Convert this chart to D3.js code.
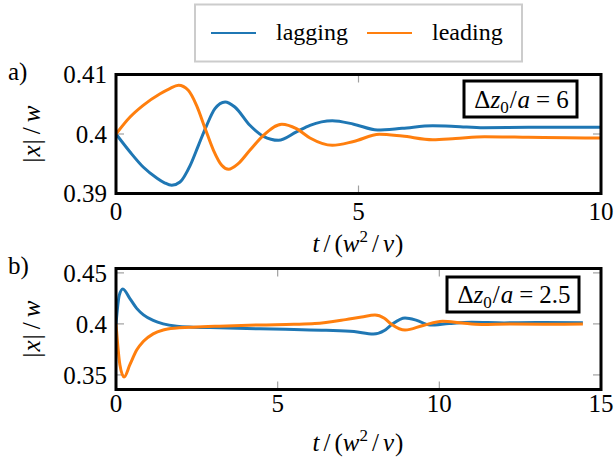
<!DOCTYPE html>
<html><head><meta charset="utf-8">
<script src="https://cdn.jsdelivr.net/npm/d3@7"></script>
<style>
body{margin:0;background:#fff;}
</style></head>
<body>
<svg id="c" width="615" height="462"></svg>
<script>
// ---- data ----
const seriesNames = ["lagging", "leading"];
const seriesColors = ["#1f77b4", "#ff7f0e"];

// panel a (Δz0/a = 6)
const aLagT = [0,0.29,0.56,0.84,1.0,1.15,1.32,1.53,1.70,1.87,2.04,2.25,2.45,2.76,3.04,3.35,3.72,4.0,4.46,4.9,5.39,5.9,6.53,7.0,7.58,8.5,9.3,10];
const aLagV = [0.4,0.39697,0.39445,0.39261,0.3918,0.39138,0.39193,0.39474,0.3981,0.40146,0.40425,0.40538,0.40454,0.40146,0.39961,0.39894,0.40034,0.40146,0.40223,0.40165,0.40067,0.40095,0.40139,0.40128,0.40105,0.40112,0.40113,0.40112];
const aLeadT = [0,0.29,0.56,0.91,1.1,1.29,1.49,1.66,1.84,2.01,2.18,2.32,2.52,2.76,3.04,3.42,3.72,4.0,4.46,4.9,5.43,5.9,6.53,7.0,7.6,8.5,9.3,10];
const aLeadV = [0.4,0.40286,0.40482,0.40677,0.4076,0.40818,0.40734,0.40482,0.40089,0.39726,0.39474,0.39407,0.39501,0.39726,0.39978,0.40163,0.40089,0.39933,0.3981,0.39875,0.39995,0.39965,0.39904,0.39925,0.39955,0.39945,0.39935,0.39933];

// panel b (Δz0/a = 2.5)
const bLagT = [0,0.1,0.21,0.43,0.64,0.85,1.15,1.46,1.88,2.39,3.2,4.45,5.5,6.5,7.36,7.96,8.3,8.53,8.94,9.3,9.71,10.3,11.0,12.0,13.0,14.44];
const bLagV = [0.4,0.428,0.4343,0.4248,0.4152,0.4089,0.4034,0.4,0.3977,0.3968,0.3962,0.3952,0.3945,0.3937,0.3925,0.39,0.3935,0.3994,0.4058,0.4035,0.3988,0.4003,0.4015,0.401,0.4013,0.4012];
const bLeadT = [0,0.12,0.25,0.43,0.64,0.85,1.15,1.46,1.88,2.39,3.2,4.45,5.5,6.15,7.1,7.6,8.01,8.3,8.53,8.94,9.5,10.1,10.7,11.3,12.2,13.2,14.44];
const bLeadV = [0.4,0.36,0.3479,0.36,0.3743,0.3829,0.3902,0.394,0.3959,0.3968,0.3978,0.399,0.3996,0.4003,0.4042,0.4068,0.4087,0.4055,0.3994,0.3939,0.3985,0.4026,0.4008,0.3994,0.3998,0.3997,0.3998];

const aXTicks = [0,5,10], aYTicks = [0.39,0.4,0.41];
const bXTicks = [0,5,10,15], bYTicks = [0.35,0.4,0.45];
const aLabel = "a)", bLabel = "b)";
const aNote = "6", bNote = "2.5";

// ---- drawing ----
const svg = d3.select("#c");
const FS = 25;     // tick labels, panel labels
const FL = 24;     // legend
const FT = 25;     // axis titles, notes
const FF = "'Liberation Serif'";

function txt(sel){ return sel.append("text").style("font-family", FF); }
function zip(T, V){ return T.map((t,i)=>[t, V[i]]); }

function panel(cfg){
  const x = d3.scaleLinear().domain(cfg.xDomain).range([116, 601]);
  const y = d3.scaleLinear().domain(cfg.yDomain).range([cfg.bottom, cfg.top]);
  const g = svg.append("g");
  const clipId = "clip" + cfg.id;
  svg.append("clipPath").attr("id", clipId).append("rect")
    .attr("x", 116).attr("y", cfg.top).attr("width", 485).attr("height", cfg.bottom - cfg.top);

  const tg = g.append("g").attr("stroke", "#a0a0a0").attr("stroke-width", 1.2);
  cfg.xTicks.forEach(v => {
    tg.append("line").attr("x1", x(v)).attr("x2", x(v)).attr("y1", cfg.top).attr("y2", cfg.top + 8);
    tg.append("line").attr("x1", x(v)).attr("x2", x(v)).attr("y1", cfg.bottom).attr("y2", cfg.bottom - 8);
  });
  cfg.yTicks.forEach(v => {
    tg.append("line").attr("x1", 116).attr("x2", 124).attr("y1", y(v)).attr("y2", y(v));
    tg.append("line").attr("x1", 601).attr("x2", 593).attr("y1", y(v)).attr("y2", y(v));
  });

  const line = d3.line().x(d => x(d[0])).y(d => y(d[1])).curve(d3.curveMonotoneX);
  cfg.series.forEach((s, i) => {
    g.append("path").attr("d", line(s)).attr("fill", "none")
      .attr("stroke", seriesColors[i]).attr("stroke-width", 3)
      .attr("stroke-linejoin", "round").attr("clip-path", `url(#${clipId})`);
  });

  g.append("rect").attr("x", 116).attr("y", cfg.top).attr("width", 485).attr("height", cfg.bottom - cfg.top)
    .attr("fill", "none").attr("stroke", "#000").attr("stroke-width", 3);

  cfg.xTicks.forEach(v => {
    txt(g).attr("x", x(v)).attr("y", cfg.xLabY).attr("text-anchor", "middle")
      .attr("font-size", FS).text(v);
  });
  cfg.yTicks.forEach(v => {
    txt(g).attr("x", 107).attr("y", y(v)).attr("dy", "0.35em").attr("text-anchor", "end")
      .attr("font-size", FS).text(d3.format("~g")(v));
  });

  // x title t/(w^2/ν)
  const xt = txt(g).attr("x", 358).attr("y", cfg.xTitleY).attr("text-anchor", "middle").attr("font-size", FT);
  xt.append("tspan").attr("font-style", "italic").text("t");
  xt.append("tspan").attr("dx", 4).text("/");
  xt.append("tspan").attr("dx", 4).text("(");
  xt.append("tspan").attr("font-style", "italic").text("w");
  xt.append("tspan").attr("font-size", 17).attr("dy", -10).text("2");
  xt.append("tspan").attr("dy", 10).attr("dx", 4).text("/");
  xt.append("tspan").attr("dx", 4).attr("font-style", "italic").text("ν");
  xt.append("tspan").attr("dx", 1).text(")");

  // y title |x|/w
  const cy = (cfg.top + cfg.bottom) / 2;
  const yt = txt(g).attr("transform", `translate(40,${cy}) rotate(-90)`)
    .attr("text-anchor", "middle").attr("font-size", FT);
  yt.append("tspan").text("|");
  yt.append("tspan").attr("dx", 1).attr("font-style", "italic").text("x");
  yt.append("tspan").attr("dx", 1).text("|");
  yt.append("tspan").attr("dx", 5).text("/");
  yt.append("tspan").attr("dx", 5).attr("font-style", "italic").text("w");

  txt(g).attr("x", 8).attr("y", cfg.panelLabY).attr("font-size", FS).text(cfg.label);

  // annotation box
  const b = cfg.box;
  g.append("rect").attr("x", b[0]).attr("y", b[1]).attr("width", b[2] - b[0]).attr("height", b[3] - b[1])
    .attr("fill", "#fff").attr("stroke", "#000").attr("stroke-width", 3);
  const nt = txt(g).attr("x", (b[0] + b[2]) / 2 + 1).attr("y", cfg.noteY).attr("text-anchor", "middle").attr("font-size", FT);
  nt.append("tspan").text("Δ");
  nt.append("tspan").attr("font-style", "italic").text("z");
  nt.append("tspan").attr("font-size", 17).attr("dy", 5).text("0");
  nt.append("tspan").attr("dy", -5).attr("dx", 1).text("/");
  nt.append("tspan").attr("dx", 1).attr("font-style", "italic").text("a");
  nt.append("tspan").attr("dx", 6).text("=");
  nt.append("tspan").attr("dx", 6).text(cfg.note);
}

panel({id:"a", xDomain:[0,10], yDomain:[0.39,0.41], top:74.5, bottom:193.5,
  xTicks:aXTicks, yTicks:aYTicks, series:[zip(aLagT,aLagV), zip(aLeadT,aLeadV)],
  xLabY:219.5, xTitleY:252, panelLabY:80, label:aLabel,
  box:[464,81,577,117], noteY:107.5, note:aNote});

panel({id:"b", xDomain:[0,15], yDomain:[0.3357,0.4543], top:268.5, bottom:389.5,
  xTicks:bXTicks, yTicks:bYTicks, series:[zip(bLagT,bLagV), zip(bLeadT,bLeadV)],
  xLabY:412, xTitleY:451, panelLabY:274, label:bLabel,
  box:[447,277,579,312], noteY:302.5, note:bNote});

// legend
const lg = svg.append("g");
lg.append("rect").attr("x", 195).attr("y", 4.5).attr("width", 327).attr("height", 57)
  .attr("fill", "#fff").attr("stroke", "#cccccc").attr("stroke-width", 2);
const legX = [[211, 256, 276], [367, 412, 432]];
seriesNames.forEach((n, i) => {
  lg.append("line").attr("x1", legX[i][0]).attr("x2", legX[i][1]).attr("y1", 33).attr("y2", 33)
    .attr("stroke", seriesColors[i]).attr("stroke-width", 2);
  txt(lg).attr("x", legX[i][2]).attr("y", 40).attr("font-size", FL).text(n);
});
</script>
</body></html>
